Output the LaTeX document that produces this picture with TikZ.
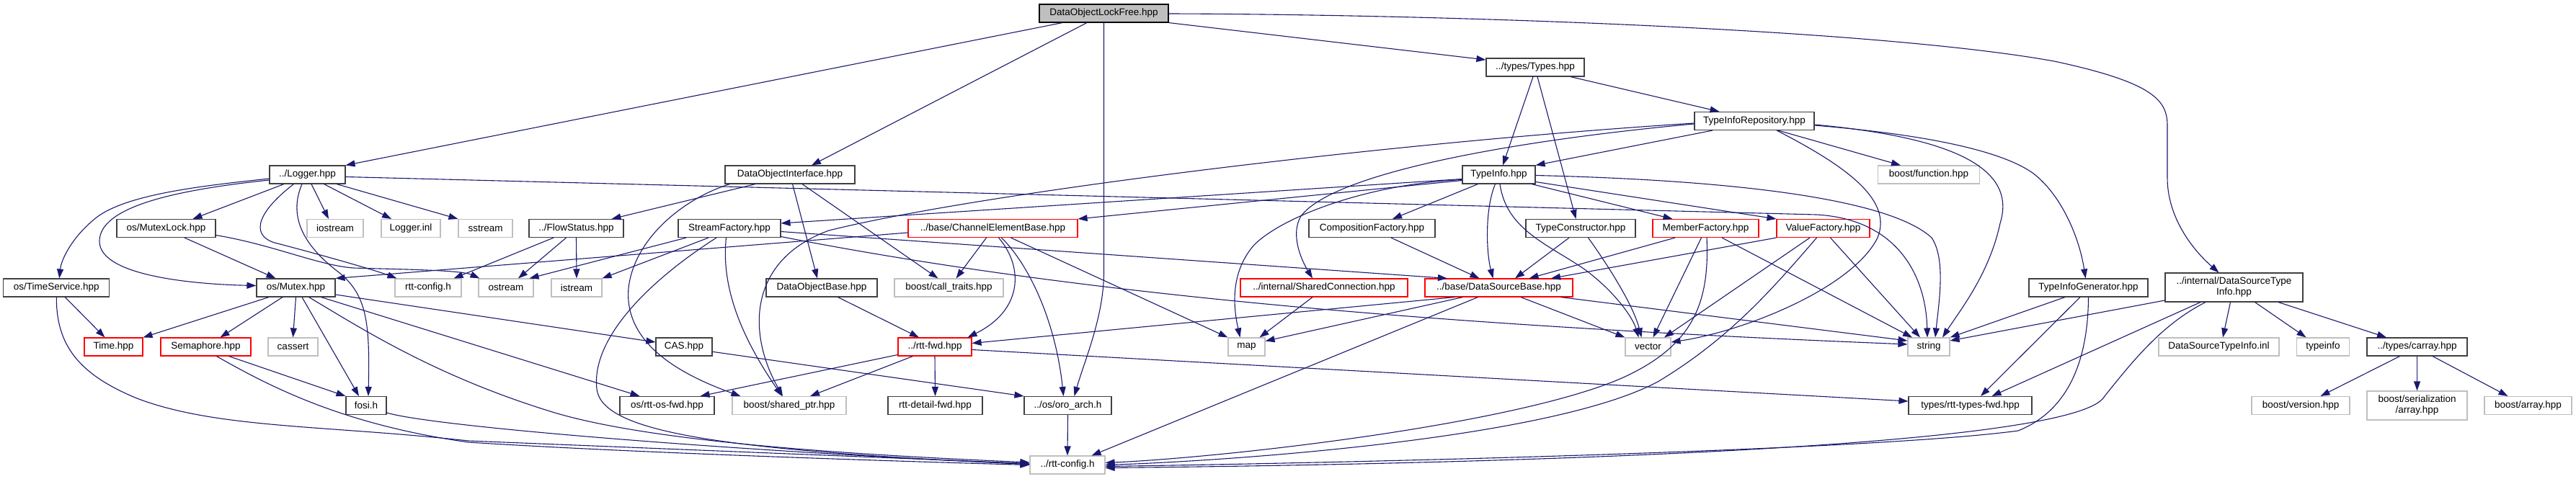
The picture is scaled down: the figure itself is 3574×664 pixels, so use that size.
\documentclass[tikz,border=0pt]{standalone}
\usepackage{fontspec}
\setmainfont{Liberation Sans}
\usetikzlibrary{arrows.meta}
\definecolor{edgec}{HTML}{191970}
\definecolor{blkc}{HTML}{404040}
\definecolor{gryc}{HTML}{BFBFBF}
\definecolor{redc}{HTML}{FF0000}
\tikzset{
 nb/.style={draw, line width=1.1pt, fill=white, minimum height=25pt, inner sep=0pt, font=\fontsize{13.5}{15}\selectfont, align=center},
 blk/.style={nb, draw=blkc},
 gry/.style={nb, draw=gryc},
 redb/.style={nb, draw=redc},
 root/.style={nb, draw=black, fill=gryc},
 e/.style={draw=edgec, line width=1.1pt, -{Triangle[length=13pt,width=9pt]}},
}
\begin{document}
\begin{tikzpicture}[x=1pt,y=-1pt]
\useasboundingbox (0,0) rectangle (3574,664);
% row 0
\node[root, minimum width=179pt] (dolf) at (1531.5,18.5) {DataObjectLockFree.hpp};
% row 1
\node[blk, minimum width=136pt] (types) at (2130,93.5) {../types/Types.hpp};
\node[blk, minimum width=166pt] (tirepo) at (2434,168) {TypeInfoRepository.hpp};
% row 2
\node[blk, minimum width=105pt] (logger) at (426.5,242.5) {../Logger.hpp};
\node[blk, minimum width=180pt] (doi) at (1096,242.5) {DataObjectInterface.hpp};
\node[blk, minimum width=101pt] (typeinfo) at (2079.5,242.5) {TypeInfo.hpp};
\node[gry, minimum width=141pt] (boostfn) at (2676,242.5) {boost/function.hpp};
% row 3
\node[blk, minimum width=137pt] (mutexlock) at (230.5,317) {os/MutexLock.hpp};
\node[gry, minimum width=78pt] (iostream) at (465,317) {iostream};
\node[gry, minimum width=82pt] (loggerinl) at (570,317) {Logger.inl};
\node[gry, minimum width=75pt] (sstream) at (673.5,317) {sstream};
\node[blk, minimum width=131pt] (flowstatus) at (799.5,317) {../FlowStatus.hpp};
\node[blk, minimum width=142pt] (streamf) at (1012,317) {StreamFactory.hpp};
\node[redb, minimum width=235pt] (cheb) at (1377.5,317) {../base/ChannelElementBase.hpp};
\node[blk, minimum width=175pt] (compf) at (1903.5,317) {CompositionFactory.hpp};
\node[blk, minimum width=152pt] (typecons) at (2193,317) {TypeConstructor.hpp};
\node[redb, minimum width=147pt] (memberf) at (2366.5,317) {MemberFactory.hpp};
\node[redb, minimum width=129pt] (valuef) at (2529.5,317) {ValueFactory.hpp};
% row 4
\node[blk, minimum width=147pt] (timeserv) at (78.3,399.5) {os/TimeService.hpp};
\node[blk, minimum width=109pt] (mutex) at (410.5,399.5) {os/Mutex.hpp};
\node[gry, minimum width=92pt] (rttconfig) at (594,399.5) {rtt-config.h};
\node[gry, minimum width=76pt] (ostream) at (702,399.5) {ostream};
\node[gry, minimum width=70pt] (istream) at (800,399.5) {istream};
\node[blk, minimum width=154pt] (dobase) at (1140,399.5) {DataObjectBase.hpp};
\node[gry, minimum width=151pt] (calltraits) at (1316.5,399.5) {boost/call\_traits.hpp};
\node[redb, minimum width=232pt] (sharedconn) at (1837,399.5) {../internal/SharedConnection.hpp};
\node[redb, minimum width=205pt] (dsb) at (2079.5,399.5) {../base/DataSourceBase.hpp};
\node[blk, minimum width=165pt] (tigen) at (2897.5,399.5) {TypeInfoGenerator.hpp};
\node[blk, minimum width=191pt, minimum height=40pt] (dsti) at (3099.5,399) {../internal/DataSourceType\\Info.hpp};
% row 5
\node[redb, minimum width=81pt] (timeh) at (157.5,481.5) {Time.hpp};
\node[redb, minimum width=125pt] (semaphore) at (285.5,481.5) {Semaphore.hpp};
\node[gry, minimum width=69pt] (cassert) at (406.5,481.5) {cassert};
\node[blk, minimum width=78pt] (cas) at (949,481.5) {CAS.hpp};
\node[redb, minimum width=102pt] (rttfwd) at (1297,481.5) {../rtt-fwd.hpp};
\node[gry, minimum width=51pt] (mapn) at (1729.5,481.5) {map};
\node[gry, minimum width=63pt] (vectorn) at (2286.5,481.5) {vector};
\node[gry, minimum width=58pt] (stringn) at (2676,481.5) {string};
\node[gry, minimum width=167pt] (dstiinl) at (3078.5,481.5) {DataSourceTypeInfo.inl};
\node[gry, minimum width=73pt] (typeinfoh) at (3223,481.5) {typeinfo};
\node[blk, minimum width=139pt] (carray) at (3353.5,481.5) {../types/carray.hpp};
% row 6
\node[blk, minimum width=56pt] (fosi) at (508,563) {fosi.h};
\node[blk, minimum width=131pt] (rttosfwd) at (925.5,563) {os/rtt-os-fwd.hpp};
\node[gry, minimum width=158pt] (sharedptr) at (1095,563) {boost/shared\_ptr.hpp};
\node[blk, minimum width=131pt] (rttdetail) at (1297.5,563) {rtt-detail-fwd.hpp};
\node[blk, minimum width=121pt] (oroarch) at (1481.5,563) {../os/oro\_arch.h};
\node[blk, minimum width=171pt] (rtttypesfwd) at (2733.5,563) {types/rtt-types-fwd.hpp};
\node[gry, minimum width=136pt] (boostver) at (3192,563) {boost/version.hpp};
\node[gry, minimum width=139pt, minimum height=40pt] (boostser) at (3353.5,563) {boost/serialization\\/array.hpp};
\node[gry, minimum width=121pt] (boostarr) at (3507.5,563) {boost/array.hpp};
% row 7
\node[gry, minimum width=104pt] (rttconfig2) at (1481,645.5) {../rtt-config.h};

% ---- edges ----
% DataObjectLockFree
\draw[e] ([xshift=-57.5pt]dolf.south) -- (logger.north east);
\draw[e] ([xshift=-23.5pt]dolf.south) -- ([xshift=30pt]doi.north);
\draw[e] (dolf.south) -- (1531.5,380) .. controls (1531,440) and (1505,500) .. ([xshift=9pt]oroarch.north);
\draw[e] (dolf.south east) -- ([yshift=10.5pt]types.west);
\draw[e] ([yshift=-0.5pt]dolf.east) .. controls (2000,20) and (2600,40) .. (2850,85) .. controls (2990,115) and (3007,140) .. (3007,175) -- (3007,247) .. controls (3007,300) and (3040,345) .. ([xshift=-21pt]dsti.north);
% Logger
\draw[e] ([yshift=-5.5pt]logger.west) .. controls (280,258) and (170,270) .. (130,305) .. controls (100,330) and (85,360) .. ([xshift=4pt]timeserv.north);
\draw[e] ([yshift=-7.5pt]logger.west) .. controls (230,265) and (138,290) .. (138,335) .. controls (138,385) and (280,395) .. ([yshift=3pt]mutex.west);
\draw[e] ([xshift=-32.5pt]logger.south) -- ([xshift=37pt]mutexlock.north);
\draw[e] ([xshift=-19pt]logger.south) .. controls (350,300) and (350,330) .. (385,338) .. controls (450,355) and (520,375) .. ([xshift=3pt]rttconfig.north west);
\draw[e] ([xshift=-7.5pt]logger.south) .. controls (400,300) and (420,340) .. (470,378) .. controls (510,410) and (513,450) .. ([xshift=3pt]fosi.north);
\draw[e] ([xshift=5.5pt]logger.south) -- ([xshift=-9pt]iostream.north);
\draw[e] ([xshift=23pt]logger.south) -- ([xshift=-27pt]loggerinl.north);
\draw[e] ([xshift=40.5pt]logger.south) -- (sstream.north west);
\draw[e] ([yshift=-3pt]logger.east) -- (2520,298) .. controls (2630,304) and (2672,380) .. ([xshift=-2pt]stringn.north);
% MutexLock
\draw[e] ([xshift=25.5pt]mutexlock.south) -- ([xshift=-28pt]mutex.north);
\draw[e] ([yshift=-9.5pt]mutexlock.east) .. controls (380,340) and (440,368) .. (490,372) .. controls (560,374) and (640,375) .. ([xshift=2pt]ostream.north west);
% TimeService
\draw[e] ([xshift=12pt]timeserv.south) -- ([xshift=-12pt]timeh.north);
\draw[e] (timeserv.south) .. controls (78,480) and (110,520) .. (190,553) .. controls (300,595) and (450,590) .. (650,612) -- ([yshift=2pt]rttconfig2.west);
% Mutex
\draw[e] ([xshift=-37.5pt]mutex.south) -- (timeh.north east);
\draw[e] ([xshift=-18.5pt]mutex.south) -- ([xshift=20pt]semaphore.north);
\draw[e] (mutex.south) -- (cassert.north);
\draw[e] ([xshift=8.5pt]mutex.south) -- ([xshift=-10pt]fosi.north);
\draw[e] ([xshift=18pt]mutex.south) .. controls (500,455) and (600,520) .. (760,570) .. controls (900,615) and (1200,632) .. ([yshift=3.5pt]rttconfig2.west);
\draw[e] ([xshift=35pt]mutex.south) -- ([xshift=-38pt]rttosfwd.north);
\draw[e] ([yshift=-9.5pt]mutex.east) -- ([yshift=6.5pt]cas.west);
% Semaphore, fosi, CAS
\draw[e] ([xshift=32pt]semaphore.south) -- (fosi.north west);
\draw[e] ([xshift=15pt]semaphore.south) .. controls (380,540) and (480,590) .. (650,614) .. controls (900,630) and (1300,642) .. (rttconfig2.west);
\draw[e] ([yshift=-10pt]fosi.east) .. controls (600,592) and (1000,625) .. ([yshift=1pt]rttconfig2.west);
\draw[e] ([yshift=-6.8pt]cas.east) -- (oroarch.north west);
% FlowStatus
\draw[e] ([xshift=-31.5pt]flowstatus.south) -- ([xshift=-11pt]rttconfig.north east);
\draw[e] ([xshift=-14pt]flowstatus.south) -- ([xshift=17pt]ostream.north);
\draw[e] (flowstatus.south) -- (istream.north);
% DataObjectInterface
\draw[e] ([xshift=-48pt]doi.south) -- ([xshift=49pt]flowstatus.north);
\draw[e] ([xshift=7pt]doi.south west) .. controls (950,275) and (880,330) .. (872,400) .. controls (866,470) and (930,515) .. ([xshift=12pt]sharedptr.north west);
\draw[e] ([xshift=3.5pt]doi.south) -- ([xshift=-6pt]dobase.north);
\draw[e] ([xshift=17pt]doi.south) -- ([xshift=-15pt]calltraits.north);
% StreamFactory
\draw[e] ([xshift=-60pt]streamf.south) -- ([xshift=-6pt]ostream.north east);
\draw[e] ([xshift=-29pt]streamf.south) -- (istream.north east);
\draw[e] ([xshift=-18pt]streamf.south) .. controls (900,390) and (820,470) .. (828,540) .. controls (835,600) and (1000,625) .. ([yshift=1pt]rttconfig2.west);
\draw[e] ([xshift=-4.5pt]streamf.south) .. controls (1000,400) and (1030,470) .. ([xshift=-10pt]sharedptr.north);
\draw[e] ([yshift=-4.5pt]streamf.east) -- ([xshift=31.5pt]dsb.north west);
\draw[e] ([yshift=-11.5pt]streamf.east) .. controls (1500,410) and (2000,452) .. ([yshift=3.5pt]stringn.west);
% ChannelElementBase
\draw[e] ([yshift=-6pt]cheb.west) -- (mutex.north east);
\draw[e] ([xshift=-9pt]cheb.south) -- ([xshift=10pt]calltraits.north);
\draw[e] ([xshift=8pt]cheb.south) .. controls (1420,370) and (1420,430) .. ([xshift=-6pt]rttfwd.north east);
\draw[e] ([xshift=12pt]cheb.south) .. controls (1430,370) and (1465,450) .. ([xshift=-6pt]oroarch.north);
\draw[e] ([xshift=25pt]cheb.south) -- (mapn.north west);
% DataObjectBase, rtt-fwd, oro_arch
\draw[e] ([xshift=22.5pt]dobase.south) -- ([xshift=-22pt]rttfwd.north);
\draw[e] ([yshift=-11pt]rttfwd.west) -- ([xshift=-20pt]rttosfwd.north east);
\draw[e] ([xshift=21pt]rttfwd.south west) -- ([xshift=29pt]sharedptr.north);
\draw[e] (rttfwd.south) -- (rttdetail.north);
\draw[e] ([yshift=-4pt]rttfwd.east) -- ([yshift=6pt]rtttypesfwd.west);
\draw[e] (oroarch.south) -- (rttconfig2.north);
% DataSourceBase
\draw[e] ([xshift=-61.5pt]dsb.south) -- ([yshift=5pt]rttfwd.east);
\draw[e] ([xshift=-50pt]dsb.south) -- ([yshift=8pt]mapn.east);
\draw[e] ([xshift=-29pt]dsb.south) -- ([xshift=-19pt]rttconfig2.north east);
\draw[e] ([xshift=30.5pt]dsb.south) -- (vectorn.north west);
\draw[e] ([xshift=86pt]dsb.south) -- ([yshift=8.5pt]stringn.west);
% SharedConnection
\draw[e] ([xshift=-16pt]sharedconn.south) -- ([xshift=-8pt]mapn.north east);
% Types
\draw[e] ([xshift=-3pt]types.south) -- ([xshift=5.5pt]typeinfo.north);
\draw[e] ([xshift=3pt]types.south) -- ([xshift=-6.5pt]typecons.north);
\draw[e] ([xshift=49pt]types.south) -- ([xshift=-48.5pt]tirepo.north);
% TypeInfoRepository
\draw[e] ([xshift=-58pt]tirepo.south) -- (typeinfo.north east);
\draw[e] ([yshift=-3pt]tirepo.west) .. controls (1900,200) and (1350,270) .. (1150,320) .. controls (1040,360) and (1035,460) .. ([xshift=-9pt]sharedptr.north);
\draw[e] ([yshift=-4pt]tirepo.west) .. controls (2100,195) and (1850,240) .. (1805,300) .. controls (1790,325) and (1805,360) .. ([xshift=-16pt]sharedconn.north);
\draw[e] ([xshift=33pt]tirepo.south) -- ([xshift=-39pt]boostfn.north);
\draw[e] ([xshift=31pt]tirepo.south) .. controls (2570,235) and (2625,280) .. (2605,330) .. controls (2570,400) and (2420,460) .. ([yshift=6.5pt]vectorn.east);
\draw[e] ([yshift=-5pt]tirepo.east) .. controls (2700,190) and (2800,230) .. (2775,310) .. controls (2760,380) and (2720,430) .. ([xshift=19pt]stringn.north);
\draw[e] ([yshift=-6pt]tirepo.east) .. controls (2650,185) and (2770,205) .. (2820,240) .. controls (2860,270) and (2885,330) .. ([xshift=-4pt]tigen.north);
% TypeInfo
\draw[e] ([yshift=-6pt]typeinfo.west) -- ([yshift=7pt]streamf.east);
\draw[e] ([yshift=-8pt]typeinfo.west) -- (cheb.north east);
\draw[e] ([yshift=-7pt]typeinfo.west) .. controls (1900,255) and (1780,300) .. (1740,340) .. controls (1705,380) and (1712,430) .. ([xshift=-9pt]mapn.north);
\draw[e] ([xshift=-5pt]typeinfo.south) .. controls (2060,290) and (2062,350) .. ([xshift=-8pt]dsb.north);
\draw[e] ([xshift=1.5pt]typeinfo.south) .. controls (2090,320) and (2150,340) .. (2200,375) .. controls (2240,405) and (2265,440) .. ([xshift=-13pt]vectorn.north);
\draw[e] ([yshift=-1pt]typeinfo.east) .. controls (2400,250) and (2620,275) .. (2680,330) .. controls (2700,360) and (2690,420) .. ([xshift=9pt]stringn.north);
\draw[e] ([xshift=-29pt]typeinfo.south) -- ([xshift=28.5pt]compf.north);
\draw[e] ([xshift=45.5pt]typeinfo.south) -- ([xshift=-46pt]memberf.north);
\draw[e] ([yshift=-10pt]typeinfo.east) -- (valuef.north west);
% factories
\draw[e] ([xshift=26.5pt]compf.south) -- ([xshift=-27pt]dsb.north);
\draw[e] ([xshift=-16pt]typecons.south) -- ([xshift=22.5pt]dsb.north);
\draw[e] ([xshift=10.5pt]typecons.south) .. controls (2225,360) and (2265,420) .. ([xshift=-9pt]vectorn.north);
\draw[e] ([xshift=-42.5pt]memberf.south) -- ([xshift=42pt]dsb.north);
\draw[e] ([xshift=-6pt]memberf.south) -- ([xshift=7pt]vectorn.north);
\draw[e] ([xshift=1.5pt]memberf.south) .. controls (2372,420) and (2350,480) .. (2250,525) .. controls (2100,590) and (1700,635) .. ([yshift=3pt]rttconfig2.east);
\draw[e] ([xshift=22.5pt]memberf.south) -- ([xshift=-23pt]stringn.north);
\draw[e] (valuef.south west) -- ([xshift=72.5pt]dsb.north);
\draw[e] ([xshift=-18.5pt]valuef.south) -- ([xshift=22.5pt]vectorn.north);
\draw[e] ([xshift=-9pt]valuef.south) .. controls (2460,400) and (2400,470) .. (2300,530) .. controls (2150,610) and (1700,640) .. (rttconfig2.east);
\draw[e] ([xshift=10pt]valuef.south) -- ([xshift=-12pt]stringn.north);
% TypeInfoGenerator
\draw[e] ([xshift=-32.5pt]tigen.south) -- (stringn.north east);
\draw[e] ([xshift=-11.5pt]tigen.south) -- ([xshift=14.5pt]rtttypesfwd.north);
\draw[e] (tigen.south) .. controls (2897,500) and (2870,570) .. (2800,598) .. controls (2600,625) and (1900,642) .. ([yshift=-2pt]rttconfig2.east);
% DataSourceTypeInfo
\draw[e] ([yshift=-18pt]dsti.west) -- ([yshift=8.5pt]stringn.east);
\draw[e] ([xshift=-46.5pt]dsti.south) -- ([xshift=30pt]rtttypesfwd.north);
\draw[e] ([xshift=-39.5pt]dsti.south) .. controls (3000,450) and (2960,500) .. (2920,550) .. controls (2880,625) and (2000,645) .. ([yshift=-4pt]rttconfig2.east);
\draw[e] ([xshift=-5pt]dsti.south) -- ([xshift=5.5pt]dstiinl.north);
\draw[e] ([xshift=29pt]dsti.south) -- ([xshift=-23.5pt]typeinfoh.north);
\draw[e] ([xshift=61.5pt]dsti.south) -- ([xshift=-42.5pt]carray.north);
% carray
\draw[e] ([xshift=-24pt]carray.south) -- ([xshift=27.5pt]boostver.north);
\draw[e] (carray.south) -- (boostser.north);
\draw[e] ([xshift=21.5pt]carray.south) -- ([xshift=-28pt]boostarr.north);
\end{tikzpicture}
\end{document}
